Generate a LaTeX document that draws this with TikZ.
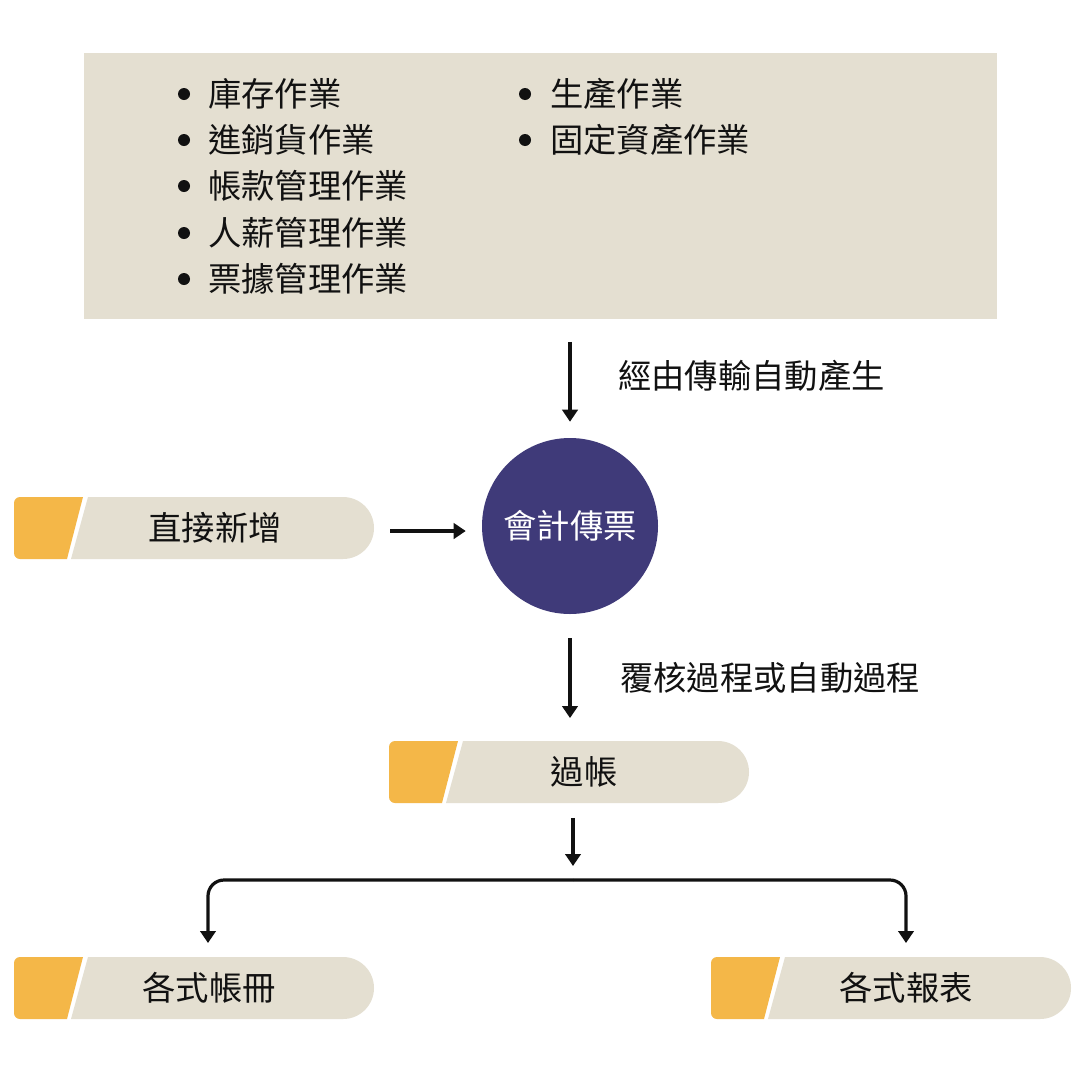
\documentclass[tikz,border=0pt]{standalone}
\usepackage{fontspec}
\setmainfont{Noto Sans CJK TC}
\usetikzlibrary{arrows.meta}
\definecolor{tagbeige}{HTML}{E4DFD1}
\definecolor{tagorange}{HTML}{F4B748}
\definecolor{navy}{HTML}{3F3A79}
\definecolor{ink}{HTML}{111111}

\newcommand\flowtag[5]{% #1 name, #2 left x, #3 top y, #4 text, #5 text offset
  \fill[tagorange] (#2+69,#3) [rounded corners=4.5pt] -- (#2,#3) -- (#2,#3+62) [sharp corners] -- (#2+53,#3+62) -- cycle;
  \fill[tagbeige] (#2+74,#3) -- (#2+329,#3) arc[start angle=-90,end angle=90,radius=31] -- (#2+57,#3+62) -- cycle;
  \node[tagbox] (#1) at (#2+180,#3+31) {};
  \node[tagtext] (#1-text) at (#2+#5,#3+31) {#4};
}

\begin{document}
\begin{tikzpicture}[x=0.75pt,y=-0.75pt,
  tagbox/.style={minimum width=270pt,minimum height=46.5pt,inner sep=0pt,draw=none},
  tagtext/.style={font=\fontsize{25pt}{30pt}\selectfont,text=ink,inner sep=0pt},
  item/.style={font=\fontsize{25pt}{30pt}\selectfont,text=ink,inner sep=0pt,anchor=west},
  note/.style={font=\fontsize{25pt}{30pt}\selectfont,text=ink,inner sep=0pt,anchor=west},
  arr/.style={draw=ink,line width=2.4pt,-{Triangle[width=11.5pt,length=9pt]}},
  bulletdot/.style={fill=ink}
]
\useasboundingbox (0,0) rectangle (1080,1078);
\fill[white] (0,0) rectangle (1080,1078);

% source box
\node[fill=tagbeige,minimum width=684.75pt,minimum height=199.5pt,inner sep=0pt] (src) at (540.5,186) {};
\foreach \y/\t in {94/庫存作業,140/進銷貨作業,186/帳款管理作業,233/人薪管理作業,279/票據管理作業}{
  \fill[bulletdot] (184,\y) circle (6);
  \node[item] at (208,\y) {\t};
}
\foreach \y/\t in {94/生產作業,140/固定資產作業}{
  \fill[bulletdot] (525,\y) circle (6);
  \node[item] at (550,\y) {\t};
}

% voucher circle
\node[circle,fill=navy,minimum size=132pt,inner sep=0pt,text=white,font=\fontsize{25pt}{30pt}\selectfont] (voucher) at (570,526) {會計傳票};

% tags
\flowtag{direct}{14}{497}{直接新增}{201}
\flowtag{posting}{389}{741}{過帳}{195}
\flowtag{ledger}{14}{957}{各式帳冊}{195}
\flowtag{report}{711}{957}{各式報表}{195}

% connectors
\draw[arr,shorten <=17pt,shorten >=12pt] (src.south -| voucher) -- (voucher.north);
\node[note] (lbl1) at (618,376) {經由傳輸自動產生};

\draw[arr,shorten <=12pt,shorten >=12pt] ([yshift=-2.25pt]direct.east) -- ([yshift=-2.25pt]direct.east -| voucher.west);

\draw[arr,shorten <=18pt,shorten >=17pt] (voucher.south) -- (voucher.south |- posting.north);
\node[note] (lbl2) at (620,678) {覆核過程或自動過程};

\coordinate (branch) at (573,880);
\coordinate (ledgerIn) at (208,943);
\coordinate (reportIn) at (906,943);
\draw[arr,shorten <=11pt,shorten >=10.5pt] (posting.south -| branch) -- (branch);
\draw[arr,rounded corners=12pt] (branch) -| (ledgerIn);
\draw[arr,rounded corners=12pt] (branch) -| (reportIn);
\end{tikzpicture}
\end{document}
